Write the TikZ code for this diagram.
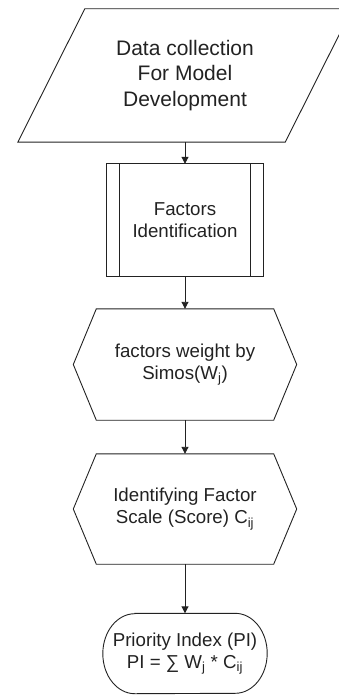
\documentclass[tikz,border=0pt]{standalone}
\usepackage{fontspec}
\setmainfont{Liberation Sans}
\usetikzlibrary{arrows.meta}
\definecolor{ink}{HTML}{222222}
\tikzset{
  x=1pt, y=-1pt,
  outline/.style={draw=ink, line width=0.9pt, line join=miter},
  holder/.style={draw=none, inner sep=0pt, align=center, text=ink,
    font=\fontsize{18.7}{22}\selectfont},
  flow/.style={draw=ink, line width=0.9pt, -{Triangle[length=7pt,width=7pt]}},
}
\begin{document}
\begin{tikzpicture}
\useasboundingbox (0,0) rectangle (339,695);
\clip (0,0) rectangle (339,695);

% node frames (shapes are drawn over their anchors below)
\node[holder, minimum width=334pt, minimum height=133pt,
      font=\fontsize{21}{25.5}\selectfont] (data) at (185,75.5)
  {Data collection\\For Model\\Development};
\node[holder, minimum width=156pt, minimum height=112pt] (fact) at (185,220)
  {Factors\\Identification};
\node[holder, minimum width=223pt, minimum height=111pt] (wgt) at (185,364.5)
  {factors weight by\\Simos(W\textsubscript{j})};
\node[holder, minimum width=223pt, minimum height=110pt] (scale) at (185,509)
  {Identifying Factor\\Scale (Score) C\textsubscript{ij}};
\node[holder, minimum width=164pt, minimum height=80pt] (pi) at (185,653.5)
  {Priority Index (PI)\\PI = ∑ W\textsubscript{j} * C\textsubscript{ij}};

% input/output parallelogram
\draw[outline] ([xshift=67pt]data.north west) -- (data.north east)
  -- ([xshift=-67pt]data.south east) -- (data.south west) -- cycle;

% predefined process box
\draw[outline] (fact.north west) rectangle (fact.south east);
\draw[outline] ([xshift=13pt]fact.north west) -- ([xshift=13pt]fact.south west);
\draw[outline] ([xshift=-13pt]fact.north east) -- ([xshift=-13pt]fact.south east);

% preparation hexagons
\foreach \h in {wgt,scale}{
  \draw[outline] ([xshift=23pt]\h.north west) -- ([xshift=-23pt]\h.north east)
    -- (\h.east) -- ([xshift=-23pt]\h.south east)
    -- ([xshift=23pt]\h.south west) -- (\h.west) -- cycle;
}

% terminator
\draw[outline] ([xshift=32pt]pi.north west) -- ([xshift=-32pt]pi.north east)
  arc[start angle=90, end angle=-90, x radius=32pt, y radius=40pt]
  -- ([xshift=32pt]pi.south west)
  arc[start angle=270, end angle=90, x radius=32pt, y radius=40pt] -- cycle;

% connectors
\draw[flow] (data.south) -- (fact.north);
\draw[flow] (fact.south) -- (wgt.north);
\draw[flow] (wgt.south) -- (scale.north);
\draw[flow] (scale.south) -- (pi.north);
\end{tikzpicture}
\end{document}
